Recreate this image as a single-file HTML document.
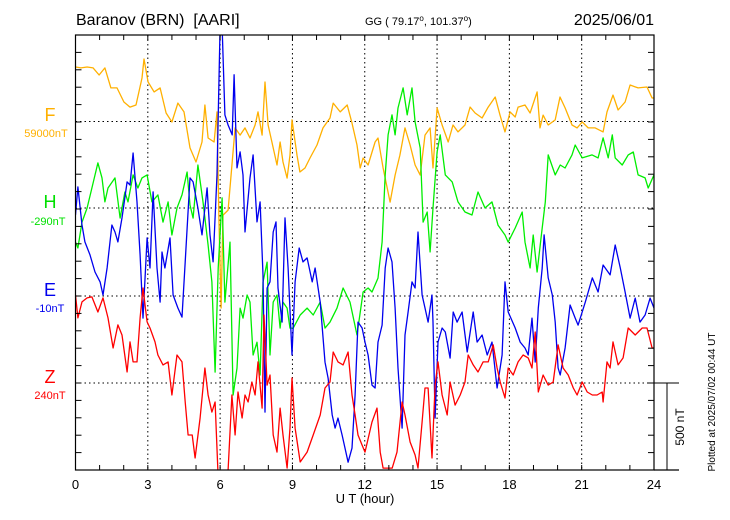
<!DOCTYPE html>
<html><head><meta charset="utf-8"><style>
body{margin:0;background:#fff;}
svg{display:block;font-family:"Liberation Sans",sans-serif;}
</style></head><body>
<svg id="chart" width="730" height="520" xmlns="http://www.w3.org/2000/svg">
<text x="76" y="25" font-size="16">Baranov (BRN) &#160;[AARI]</text>
<text x="365" y="25" font-size="11">GG ( 79.17<tspan dy="-4" font-size="8">o</tspan><tspan dy="4">, 101.37</tspan><tspan dy="-4" font-size="8">o</tspan><tspan dy="4">)</tspan></text>
<text x="654" y="25" font-size="16" text-anchor="end">2025/06/01</text>
<g text-anchor="middle">
<text x="50" y="121" font-size="18" fill="#FFB000">F</text>
<text x="46" y="137" font-size="11" fill="#FFB000">59000nT</text>
<text x="50" y="208" font-size="18" fill="#00E000">H</text>
<text x="48" y="225" font-size="11" fill="#00E000">-290nT</text>
<text x="50" y="296" font-size="18" fill="#0000EE">E</text>
<text x="50" y="312" font-size="11" fill="#0000EE">-10nT</text>
<text x="50" y="383" font-size="18" fill="#FF0000">Z</text>
<text x="50" y="399" font-size="11" fill="#FF0000">240nT</text>
</g>
<g id="grid"></g>
<clipPath id="clip"><rect x="75.5" y="35" width="578.5" height="435"/></clipPath>
<g id="series" clip-path="url(#clip)"></g>
<g id="axes"></g>
<text x="365" y="503" font-size="13" text-anchor="middle">U T (hour)</text>
<line x1="654" y1="383" x2="679" y2="383" stroke="#000"/>
<line x1="667" y1="383" x2="667" y2="470" stroke="#000"/>
<text transform="translate(684,427) rotate(-90)" font-size="12" text-anchor="middle">500 nT</text>
<text transform="translate(715,402) rotate(-90)" font-size="10" text-anchor="middle">Plotted at 2025/07/02 00:44 UT</text>
</svg>
<script>
const xTicks=[0,3,6,9,12,15,18,21,24];
const fT=[0,0.23,0.48,0.73,0.98,1.22,1.47,1.72,2.01,2.26,2.51,2.76,2.84,3.01,3.26,3.51,3.76,4.00,4.25,4.50,4.75,5.00,5.25,5.37,5.50,5.75,5.87,5.95,6.04,6.12,6.33,6.62,6.83,7.03,7.24,7.45,7.57,7.74,7.86,7.99,8.15,8.36,8.49,8.61,8.78,8.90,8.98,9.19,9.31,9.52,9.73,10.02,10.27,10.56,10.69,10.98,11.27,11.47,11.68,11.81,11.93,12.14,12.43,12.55,12.76,13.05,13.26,13.46,13.67,13.88,14.09,14.30,14.50,14.71,14.83,15.00,15.21,15.46,15.66,15.87,16.16,16.37,16.58,16.87,17.12,17.41,17.61,17.82,18.03,18.24,18.36,18.65,18.86,19.15,19.27,19.40,19.61,19.90,20.10,20.31,20.60,20.81,21.02,21.27,21.56,21.89,22.05,22.30,22.51,22.80,23.01,23.34,23.71,23.92,24.00];
const fV=[313,308,313,308,267,308,193,193,112,83,95,250,359,227,170,193,49,-3,106,55,-152,-233,-118,95,-95,-118,55,-555,-1072,-538,-509,-37,-78,-37,-95,-20,55,-78,227,-20,-118,-250,-118,-233,-325,-193,9,-193,-290,-267,-210,-135,-37,20,106,55,95,-9,-135,-267,-210,-250,-118,-95,-267,-463,-308,-193,-37,-135,-250,-308,-78,-37,-267,78,-20,-118,-20,-60,-20,83,49,20,83,141,37,-60,55,26,83,95,49,170,-37,37,-20,9,141,78,-20,-37,-3,-37,-37,-60,55,152,66,112,210,193,198,135,135];
const hT=[0,0.10,0.27,0.48,0.68,0.93,1.10,1.22,1.35,1.64,1.85,2.05,2.18,2.39,2.59,2.76,2.97,3.17,3.42,3.63,3.84,4.00,4.21,4.42,4.63,4.75,4.88,5.08,5.29,5.50,5.66,5.79,5.92,6.08,6.20,6.41,6.54,6.70,6.83,6.95,7.12,7.24,7.37,7.53,7.66,7.78,7.95,8.07,8.20,8.36,8.49,8.61,8.78,8.90,9.03,9.32,9.61,9.86,10.15,10.35,10.56,10.85,11.10,11.39,11.68,11.93,12.14,12.30,12.55,12.72,12.85,12.97,13.13,13.26,13.38,13.59,13.76,13.96,14.09,14.30,14.42,14.59,14.71,14.83,15.00,15.13,15.34,15.63,15.87,16.16,16.45,16.70,16.99,17.28,17.53,17.82,17.95,18.24,18.53,18.65,18.86,18.99,19.15,19.36,19.49,19.61,19.90,20.11,20.31,20.60,20.73,21.02,21.43,21.68,21.89,22.10,22.27,22.39,22.68,22.93,23.14,23.34,23.63,23.76,24.00];
const hV=[-196,-230,-81,0,115,259,173,35,115,173,-58,92,35,190,115,173,190,35,75,-81,35,-155,0,75,207,17,-58,247,35,-213,-426,-943,-345,58,-541,-196,-1075,-920,-575,-633,-500,-541,-845,-771,-960,-426,-311,-845,-541,-500,-690,-541,-575,-690,-690,-615,-575,-615,-541,-690,-656,-575,-460,-541,-730,-483,-460,-483,-403,-196,190,420,535,420,575,690,535,690,495,345,-81,-23,-253,0,322,420,190,150,35,-23,-40,92,0,35,-98,-155,-196,-115,-23,-196,-345,-155,-368,-115,35,305,190,247,230,305,362,288,305,288,403,288,420,288,247,305,322,190,173,115,190];
const eT=[0,0.10,0.27,0.39,0.60,0.81,1.02,1.14,1.31,1.43,1.51,1.64,1.76,1.93,2.14,2.26,2.39,2.55,2.68,2.80,2.97,3.09,3.22,3.38,3.51,3.59,3.71,3.92,4.05,4.25,4.42,4.55,4.75,4.88,5.08,5.25,5.46,5.58,5.71,5.87,6.00,6.08,6.20,6.33,6.50,6.58,6.70,6.83,6.95,7.03,7.24,7.37,7.53,7.66,7.78,7.86,7.95,8.07,8.20,8.32,8.40,8.57,8.69,8.82,8.98,9.11,9.28,9.44,9.61,9.82,9.94,10.15,10.35,10.48,10.65,10.77,10.89,11.06,11.18,11.31,11.47,11.60,11.72,11.89,12.01,12.14,12.30,12.43,12.55,12.72,12.85,12.97,13.13,13.26,13.38,13.55,13.67,13.80,13.96,14.09,14.21,14.38,14.50,14.63,14.79,14.83,14.92,15.04,15.21,15.34,15.54,15.67,15.83,16.04,16.25,16.50,16.66,16.87,17.08,17.28,17.49,17.70,17.82,17.95,18.24,18.45,18.65,18.78,18.94,19.07,19.20,19.36,19.44,19.61,19.78,19.90,20.02,20.11,20.31,20.52,20.73,20.85,21.15,21.44,21.68,21.89,22.18,22.39,22.60,22.80,23.01,23.22,23.42,23.63,23.84,24.00];
const eV=[466,627,408,311,236,138,81,6,161,311,408,368,311,449,656,638,822,541,236,-127,334,161,598,161,-35,253,161,334,6,-69,-121,196,679,656,506,351,621,351,196,696,1550,1550,1041,983,926,1271,736,828,696,368,679,811,426,541,121,-667,46,81,368,426,46,-150,449,161,-339,81,276,196,219,81,161,-35,-380,-472,-684,-759,-702,-799,-874,-955,-874,-569,-150,-184,-265,-339,-512,-529,-265,-167,161,276,196,-69,-414,-759,-224,-92,81,46,368,6,-69,-150,6,-150,-702,-265,-184,-207,-357,-92,-150,-92,-322,-92,-265,-224,-339,-265,-529,-339,81,-92,-184,-265,-299,-339,-127,-380,-69,161,351,104,6,-150,-414,-454,-299,-52,-127,-167,-35,104,23,178,121,293,161,23,-127,-12,-150,-109,-12,-69];
const zT=[0,0.10,0.27,0.48,0.68,0.93,1.14,1.35,1.56,1.76,1.93,2.14,2.26,2.39,2.55,2.68,2.80,2.97,3.09,3.30,3.42,3.63,3.84,4.00,4.21,4.42,4.55,4.67,4.84,4.96,5.17,5.37,5.50,5.66,5.79,5.91,6.08,6.33,6.49,6.62,6.74,6.91,7.03,7.16,7.32,7.45,7.57,7.74,7.82,7.95,8.07,8.20,8.36,8.49,8.61,8.78,8.90,8.98,9.11,9.32,9.61,9.86,10.15,10.35,10.56,10.69,10.89,11.10,11.31,11.47,11.60,11.72,11.89,12.01,12.30,12.51,12.64,12.76,13.14,13.34,13.55,13.67,13.88,14.09,14.21,14.38,14.50,14.63,14.79,14.92,15.04,15.21,15.42,15.54,15.75,15.96,16.16,16.29,16.50,16.70,16.91,17.12,17.33,17.49,17.62,17.82,17.95,18.16,18.36,18.57,18.78,18.94,19.07,19.20,19.40,19.61,19.82,20.02,20.23,20.44,20.65,20.81,21.02,21.23,21.44,21.64,21.85,21.89,22.05,22.18,22.30,22.51,22.72,22.93,23.22,23.51,23.71,23.92,24.00];
const zV=[506,374,466,489,495,408,489,374,201,334,276,63,236,121,121,374,546,351,316,236,161,104,121,-69,161,121,-109,-299,-299,-431,-201,86,-69,-167,-109,-520,-560,-500,-69,-299,-52,-201,-69,-109,6,-69,121,-144,391,-12,46,-299,-397,-144,-299,-489,-259,29,-259,-454,-397,-299,-184,-29,6,178,121,104,178,-69,-184,-299,-357,-397,-224,-144,-397,-489,-489,-397,-109,-184,-339,-414,-489,-224,-29,-29,-431,-12,121,-69,-184,6,-127,-69,6,161,104,63,121,121,219,86,6,-86,86,46,121,161,144,86,293,-52,46,-12,6,219,86,46,-29,-69,6,-52,-69,-69,-52,-109,121,86,236,104,144,316,276,316,316,201,201];

const NS='http://www.w3.org/2000/svg';
const X0=75.5,X1=654,Y0=35,Y1=470,PXNT=87/500;
const xScale=h=>X0+h*(X1-X0)/24;
const yScale=(v,base)=>base-v*PXNT;
function mk(tag,attrs,parent){const e=document.createElementNS(NS,tag);for(const k in attrs)e.setAttribute(k,attrs[k]);parent.appendChild(e);return e;}
const grid=document.getElementById('grid'),axes=document.getElementById('axes'),series=document.getElementById('series');
[121.5,208,296,383].forEach(y=>{const l=mk('line',{x1:X0,x2:X1,y1:y,y2:y,stroke:'#000','stroke-dasharray':'1.5,3','stroke-width':1},grid);

});
xTicks.forEach(h=>{const x=xScale(h);
 if(h>0&&h<24){const l=mk('line',{x1:x,x2:x,y1:Y0,y2:Y1,stroke:'#000','stroke-dasharray':'1.5,3','stroke-width':1},grid);
 
 }
 const t=mk('text',{x:x,y:489,'font-size':13,'text-anchor':'middle'},axes);t.textContent=h;
 
 
});
for(let h=1;h<24;h++){const x=xScale(h);
 const a=mk('line',{x1:x,x2:x,y1:Y0,y2:Y0+5,stroke:'#000'},axes);
 
 
 const b=mk('line',{x1:x,x2:x,y1:Y1,y2:Y1-5,stroke:'#000'},axes);
 
 }
for(let i=1;i<25;i++){const y=Y0+i*87/5;
 const a=mk('line',{x1:X0,x2:X0+6,y1:y,y2:y,stroke:'#000'},axes);
 
 
 const b=mk('line',{x1:X1,x2:X1-6,y1:y,y2:y,stroke:'#000'},axes);
 
 }
const frame=mk('rect',{x:X0,y:Y0,width:X1-X0,height:Y1-Y0,fill:'none',stroke:'#000','stroke-width':1.2},axes);


const bx=mk('line',{x1:X1,x2:679,y1:Y1,y2:Y1,stroke:'#000','stroke-width':1.2},axes);


function draw(ts,vs,base,color,name){
 const d=ts.map((t,i)=>(i?'L':'M')+xScale(t).toFixed(1)+','+yScale(vs[i],base).toFixed(1)).join('');
 const p=mk('path',{d:d,fill:'none',stroke:color,'stroke-width':1.3,'stroke-linejoin':'round'},series);
 
 
}
draw(fT,fV,121.5,'#FFB000','f-series');
draw(hT,hV,208,'#00EE00','h-series');
draw(eT,eV,296,'#0000EE','e-series');
draw(zT,zV,383,'#FF0000','z-series');
</script>
</body></html>
